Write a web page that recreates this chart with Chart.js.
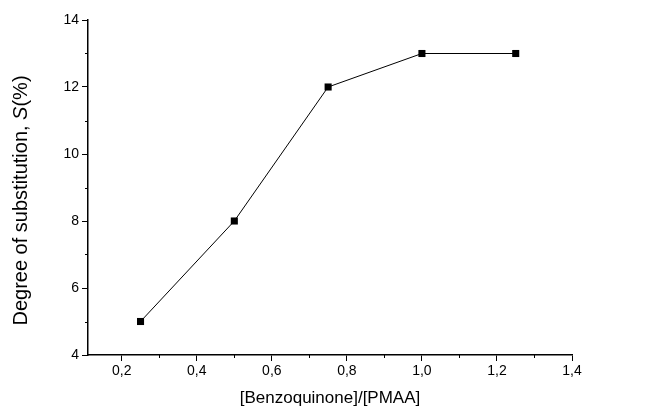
<!DOCTYPE html>
<html>
<head>
<meta charset="utf-8">
<script src="https://cdn.jsdelivr.net/npm/chart.js@4.4.0/dist/chart.umd.min.js"></script>
<style>
  html, body { margin: 0; padding: 0; background: #fff; }
</style>
</head>
<body>
<canvas id="chart" width="648" height="413"></canvas>
<script>
// DATA
const ratios = [0.25, 0.5, 0.75, 1.0, 1.25];
const substitution = [5, 8, 12, 13, 13];
const xTicks = [0.2, 0.4, 0.6, 0.8, 1.0, 1.2, 1.4];
const yTicks = [4, 6, 8, 10, 12, 14];

const FONT = "'Liberation Sans', Arial, sans-serif";

// minor ticks + y title with italic S
const extras = {
  id: "extras",
  afterDraw(chart) {
    const { ctx, scales: { x, y } } = chart;
    ctx.save();
    ctx.strokeStyle = "#000";
    ctx.lineWidth = 1;
    ctx.beginPath();
    for (let v = 0.3; v < 1.4; v += 0.2) {
      const px = Math.round(x.getPixelForValue(v)) + 0.5;
      ctx.moveTo(px, y.bottom);
      ctx.lineTo(px, y.bottom + 3);
    }
    for (let v = 5; v < 14; v += 2) {
      const py = Math.round(y.getPixelForValue(v)) + 0.5;
      ctx.moveTo(x.left, py);
      ctx.lineTo(x.left - 3, py);
    }
    ctx.stroke();

    // y axis title
    ctx.translate(21, (y.top + y.bottom) / 2 + 13);
    ctx.rotate(-Math.PI / 2);
    ctx.fillStyle = "#000";
    ctx.textBaseline = "middle";
    const a = "Degree of substitution, ";
    const b = "S";
    const c = "(%)";
    ctx.font = "20px " + FONT;
    const wa = ctx.measureText(a).width;
    const wc = ctx.measureText(c).width;
    ctx.font = "italic 20px " + FONT;
    const wb = ctx.measureText(b).width;
    let sx = -(wa + wb + wc) / 2;
    ctx.textAlign = "left";
    ctx.font = "20px " + FONT;
    ctx.fillText(a, sx, 0);
    ctx.font = "italic 20px " + FONT;
    ctx.fillText(b, sx + wa, 0);
    ctx.font = "20px " + FONT;
    ctx.fillText(c, sx + wa + wb, 0);
    ctx.restore();
  },
};

new Chart(document.getElementById("chart"), {
  type: "scatter",
  data: {
    datasets: [
      {
        data: ratios.map((r, i) => ({ x: r, y: substitution[i] })),
        showLine: true,
        borderColor: "#000",
        borderWidth: 1,
        backgroundColor: "#000",
        pointStyle: "rect",
        pointRadius: 5,
        pointBorderWidth: 0,
      },
    ],
  },
  options: {
    responsive: false,
    animation: false,
    layout: { padding: { left: 0, right: 76, top: 20, bottom: 0 } },
    plugins: { legend: { display: false }, tooltip: { enabled: false } },
    scales: {
      x: {
        type: "linear",
        min: 0.11,
        max: 1.4,
        afterBuildTicks: (s) => { s.ticks = xTicks.map((v) => ({ value: v })); },
        afterFit: (s) => { s.height = 58; },
        border: { color: "#000", width: 1.5 },
        grid: { drawOnChartArea: false, tickLength: 6, color: "#000" },
        ticks: {
          color: "#000",
          font: { family: FONT, size: 14 },
          padding: 2,
          autoSkip: false,
          maxRotation: 0,
          minRotation: 0,
          callback: (v) => v.toFixed(1).replace(".", ","),
        },
        title: {
          display: true,
          text: "[Benzoquinone]/[PMAA]",
          color: "#000",
          font: { family: FONT, size: 17 },
          padding: { top: 6 },
        },
      },
      y: {
        min: 4,
        max: 14,
        afterBuildTicks: (s) => { s.ticks = yTicks.map((v) => ({ value: v })); },
        afterFit: (s) => { s.width = 88; },
        border: { color: "#000", width: 1.5 },
        grid: { drawOnChartArea: false, tickLength: 6, color: "#000" },
        ticks: {
          color: "#000",
          font: { family: FONT, size: 14 },
          padding: 3,
          autoSkip: false,
        },
      },
    },
  },
  plugins: [extras],
});
</script>
</body>
</html>
